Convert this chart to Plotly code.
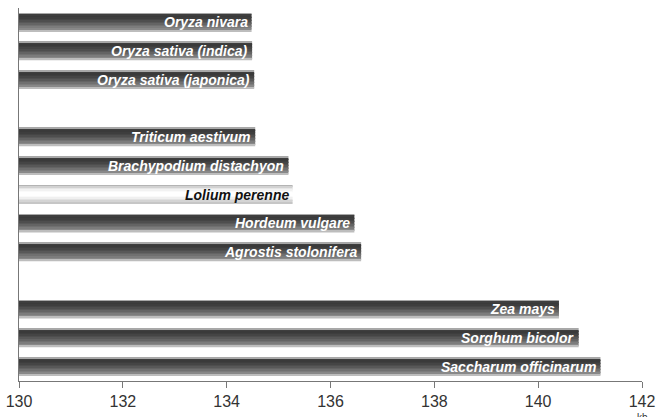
import plotly.graph_objects as go

# Data
species = ["Oryza nivara", "Oryza sativa (indica)", "Oryza sativa (japonica)", " ",
           "Triticum aestivum", "Brachypodium distachyon", "Lolium perenne",
           "Hordeum vulgare", "Agrostis stolonifera", "  ",
           "Zea mays", "Sorghum bicolor", "Saccharum officinarum"]
positions_kb = [134.48, 134.49, 134.53, None,
                134.55, 135.19, 135.27,
                136.46, 136.59, None,
                140.40, 140.78, 141.20]
highlight = ["Lolium perenne"]

x_min, x_max = 130, 142
tick_vals = [130, 132, 134, 136, 138, 140, 142]

dark_grad = ["#a8a8a8", "#3e3e3e", "#3a3a3a", "#3e3e3e", "#454545", "#4e4e4e",
             "#585858", "#646464", "#707070", "#7c7c7c", "#888888", "#bdbdbd"]
light_grad = ["#b4b4b4", "#d2d2d2", "#e6e6e6", "#f2f2f2", "#fafafa", "#ffffff",
              "#ffffff", "#fafafa", "#f0f0f0", "#e2e2e2", "#d4d4d4", "#c6c6c6"]

bar_w = 0.64
n = len(dark_grad)
strip = bar_w / n
lengths = [None if v is None else v - x_min for v in positions_kb]

fig = go.Figure()
for k in range(n):
    cols = [light_grad[k] if s in highlight else dark_grad[k] for s in species]
    fig.add_trace(go.Bar(
        y=species, x=lengths, base=x_min, orientation="h",
        width=strip * 1.05, offset=-bar_w / 2 + k * strip,
        marker=dict(color=cols, line=dict(width=0)),
        hoverinfo="skip", showlegend=False,
    ))

annotations = []
for s, v in zip(species, positions_kb):
    if v is None:
        continue
    annotations.append(dict(
        text=s, x=v, y=s, xref="x", yref="y", xanchor="right", yanchor="middle",
        xshift=-2, showarrow=False,
        font=dict(family="Liberation Sans, Arial", size=14,
                  color="#111111" if s in highlight else "white",
                  style="italic", weight="bold"),
    ))
annotations.append(dict(text="kb", x=142, xref="x", y=0, yref="paper",
                        yanchor="top", yshift=-29, showarrow=False,
                        font=dict(family="Liberation Sans, Arial", size=10,
                                  color="#333333")))

fig.update_layout(
    width=666, height=417,
    margin=dict(l=19, r=24, t=8, b=36),
    barmode="overlay",
    plot_bgcolor="white", paper_bgcolor="white",
    font=dict(family="Liberation Sans, Arial", color="#333333"),
    xaxis=dict(range=[x_min, x_max], tickvals=tick_vals, ticks="outside",
               ticklen=6, tickcolor="#777777", showline=True, linecolor="#777777",
               linewidth=1, showgrid=False, zeroline=False, automargin=False,
               ticklabeloverflow="allow",
               tickfont=dict(size=16, color="#333333")),
    yaxis=dict(autorange="reversed", showticklabels=False, showgrid=False,
               showline=True, linecolor="#777777", linewidth=1, ticks="",
               zeroline=False, automargin=False),
    annotations=annotations,
)

fig.write_html("out.html", config={"displayModeBar": False},
               post_script="document.body.style.margin='0';")
